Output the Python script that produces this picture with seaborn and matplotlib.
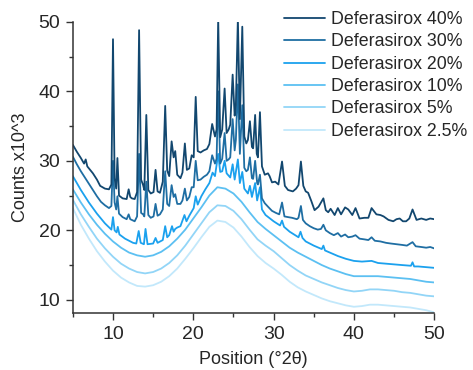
import matplotlib
matplotlib.use("Agg")
import matplotlib.pyplot as plt
import seaborn as sns
from matplotlib.ticker import MultipleLocator

# XRD patterns (counts x10^3 vs 2-theta)
pts_40 = [(5.0, 32.3), (5.5, 31.3), (6.0, 30.4), (6.4, 29.6), (6.6, 30.2), (6.8, 29.2), (7.5, 28.2), (8.0, 27.3),
          (8.4, 26.4), (9.0, 26.0), (9.5, 25.9), (9.8, 26.6), (10.0, 47.5), (10.2, 27.5), (10.4, 26.0), (10.55, 30.4),
          (10.75, 25.0), (11.2, 24.6), (11.7, 24.5), (11.95, 25.9), (12.15, 24.8), (12.35, 24.6), (12.7, 24.5),
          (13.0, 25.5), (13.25, 48.8), (13.5, 27.3), (13.75, 26.5), (13.9, 25.8), (14.15, 36.6), (14.4, 25.8),
          (14.7, 25.3), (15.05, 25.5), (15.3, 28.7), (15.55, 25.6), (15.85, 25.4), (16.2, 27.0), (16.5, 37.9),
          (16.75, 28.6), (17.0, 27.8), (17.3, 32.8), (17.55, 30.5), (17.75, 31.4), (18.0, 28.0), (18.4, 27.5),
          (18.65, 28.3), (18.95, 32.5), (19.2, 28.7), (19.5, 28.9), (19.8, 30.8), (20.05, 30.5), (20.3, 39.2),
          (20.55, 31.4), (20.9, 31.2), (21.3, 31.5), (21.7, 31.7), (22.0, 32.4), (22.35, 35.3), (22.7, 33.5),
          (22.9, 34.5), (23.1, 50.5), (23.35, 33.4), (23.6, 34.5), (23.9, 40.4), (24.15, 34.0), (24.4, 34.5),
          (24.6, 35.2), (24.9, 42.4), (25.15, 36.5), (25.3, 38.0), (25.55, 50.5), (25.8, 36.0), (26.1, 49.3),
          (26.35, 33.5), (26.6, 32.5), (26.8, 33.0), (27.05, 35.7), (27.3, 32.0), (27.45, 31.8), (27.7, 36.6),
          (27.9, 31.0), (28.05, 30.5), (28.3, 37.0), (28.55, 29.2), (28.9, 28.0), (29.3, 28.2), (29.5, 27.8),
          (29.8, 26.9), (30.2, 27.0), (30.6, 26.6), (31.05, 29.9), (31.4, 26.4), (31.8, 25.8), (32.4, 25.6),
          (32.8, 26.0), (33.1, 26.5), (33.4, 29.9), (33.7, 26.4), (34.0, 25.6), (34.3, 25.4), (34.7, 24.2),
          (35.1, 22.9), (35.6, 23.4), (36.2, 24.6), (36.5, 22.9), (36.8, 22.6), (37.1, 23.1), (37.6, 22.2),
          (38.0, 23.2), (38.4, 22.3), (38.9, 23.3), (39.3, 23.0), (39.8, 22.2), (40.2, 23.2), (40.7, 21.7),
          (41.3, 21.8), (41.8, 21.8), (42.2, 23.2), (42.8, 22.3), (43.3, 22.2), (43.7, 22.0), (44.3, 21.5),
          (44.9, 21.3), (45.3, 21.6), (45.7, 21.7), (46.1, 21.3), (46.5, 21.3), (46.9, 21.7), (47.3, 23.0),
          (47.8, 21.5), (48.4, 21.7), (49.0, 21.5), (49.5, 21.7), (50.0, 21.6)]

pts_30 = [(5.0, 30.6), (5.5, 29.5), (6.0, 28.5), (6.5, 27.6), (7.0, 26.7), (7.5, 25.8), (8.0, 24.9), (8.5, 24.1),
          (9.0, 23.6), (9.5, 23.2), (9.8, 23.5), (10.0, 30.0), (10.2, 24.0), (10.4, 23.0), (10.55, 24.9),
          (10.75, 22.4), (11.2, 21.9), (11.7, 21.6), (11.95, 22.3), (12.15, 21.6), (12.7, 21.3), (13.0, 22.0),
          (13.25, 31.0), (13.5, 22.5), (13.75, 22.3), (13.9, 22.0), (14.15, 27.0), (14.4, 22.2), (14.7, 21.8),
          (15.05, 22.0), (15.3, 23.8), (15.55, 22.1), (15.85, 22.3), (16.2, 23.0), (16.5, 28.5), (16.75, 23.8),
          (17.0, 23.5), (17.3, 26.5), (17.55, 24.8), (17.75, 25.2), (18.0, 23.8), (18.4, 23.8), (18.65, 24.3),
          (18.95, 26.0), (19.2, 24.3), (19.5, 24.8), (19.8, 26.2), (20.05, 26.2), (20.3, 30.0), (20.55, 27.2),
          (20.9, 27.3), (21.3, 27.7), (21.7, 28.0), (22.0, 28.5), (22.35, 30.8), (22.7, 29.6), (22.9, 30.3),
          (23.1, 40.0), (23.35, 29.6), (23.6, 30.3), (23.9, 34.0), (24.15, 30.0), (24.4, 30.2), (24.6, 30.5),
          (24.9, 36.0), (25.15, 31.5), (25.3, 33.0), (25.55, 41.0), (25.8, 31.0), (26.1, 38.0), (26.35, 29.0),
          (26.6, 28.5), (26.8, 28.7), (27.05, 30.5), (27.3, 27.5), (27.45, 27.4), (27.7, 30.0), (27.95, 26.8),
          (28.05, 26.6), (28.3, 28.0), (28.55, 24.6), (28.9, 23.9), (29.3, 23.4), (29.8, 22.8), (30.3, 22.5),
          (30.7, 22.3), (31.05, 24.0), (31.35, 22.0), (31.8, 21.9), (32.3, 21.8), (32.9, 21.6), (33.1, 21.8),
          (33.4, 23.5), (33.65, 21.5), (34.0, 21.0), (34.5, 20.6), (35.0, 20.3), (35.5, 20.1), (35.9, 20.2),
          (36.2, 20.8), (36.5, 20.0), (37.0, 19.6), (37.5, 19.3), (38.0, 19.6), (38.4, 19.1), (38.9, 19.4),
          (39.3, 19.0), (39.8, 19.1), (40.2, 19.3), (40.7, 18.8), (41.3, 18.7), (41.8, 18.6), (42.2, 19.0),
          (42.6, 18.5), (43.3, 18.4), (44.0, 18.2), (44.6, 18.1), (45.3, 18.0), (46.0, 17.9), (46.6, 17.8),
          (47.3, 18.3), (47.7, 17.7), (48.4, 17.6), (49.0, 17.5), (49.5, 17.6), (50.0, 17.4)]

pts_20 = [(5.0, 27.8), (6.0, 25.8), (7.0, 24.0), (8.0, 22.4), (9.0, 21.0), (9.8, 20.1), (10.0, 21.9), (10.2, 20.0),
          (10.45, 19.7), (10.6, 20.5), (10.8, 19.4), (11.5, 18.8), (12.0, 18.5), (12.5, 18.2), (12.9, 18.1),
          (13.2, 19.9), (13.45, 18.2), (13.85, 18.0), (14.05, 20.2), (14.3, 18.0), (15.0, 18.1), (15.3, 18.9),
          (15.55, 18.2), (16.2, 18.6), (16.5, 20.6), (16.75, 19.0), (17.0, 19.3), (17.35, 20.6), (17.55, 19.8),
          (17.75, 20.2), (18.0, 20.4), (18.4, 20.6), (18.9, 22.2), (19.15, 21.3), (19.5, 22.1), (20.05, 23.2),
          (20.3, 24.9), (20.55, 23.7), (21.0, 24.9), (21.5, 25.9), (22.0, 26.8), (22.4, 28.3), (22.7, 27.8),
          (23.1, 31.0), (23.35, 28.4), (23.6, 28.5), (23.9, 30.0), (24.15, 28.2), (24.6, 27.6), (24.9, 29.5),
          (25.15, 27.3), (25.55, 30.2), (25.8, 26.8), (26.1, 28.4), (26.35, 26.0), (26.8, 25.3), (27.05, 26.4),
          (27.3, 24.8), (27.7, 26.8), (27.95, 24.3), (28.3, 26.2), (28.55, 23.0), (29.0, 22.2), (30.0, 21.3),
          (30.8, 20.7), (31.05, 21.4), (31.3, 20.5), (32.0, 19.8), (33.1, 19.0), (33.35, 19.8), (33.6, 18.9),
          (34.0, 18.4), (35.0, 17.8), (36.0, 17.3), (36.2, 17.8), (36.4, 17.1), (37.0, 16.8), (38.0, 16.3),
          (39.0, 15.9), (40.0, 15.6), (41.0, 15.5), (42.2, 15.6), (43.0, 15.3), (44.0, 15.2), (45.0, 15.1),
          (46.0, 15.0), (47.1, 14.9), (47.3, 15.4), (47.5, 14.8), (48.0, 14.8), (49.0, 14.7), (50.0, 14.6)]

# the low-loading samples are just the amorphous halo
x_halo = [5, 6, 7, 8, 9, 10, 11, 12, 13, 14, 15, 16, 17, 18, 19, 20, 21, 22, 23, 24, 25, 26, 27, 28, 29,
          30, 31, 32, 33, 34, 35, 36, 37, 38, 39, 40, 41, 42, 43, 44, 45, 46, 47, 48, 49, 50]
y_10 = [25.9, 24.0, 22.3, 20.8, 19.5, 18.4, 17.5, 16.8, 16.4, 16.2, 16.4, 16.9, 17.7, 18.8, 20.1, 21.7, 23.3, 25.0,
        26.2, 26.0, 25.3, 24.1, 22.6, 21.2, 20.2, 19.3, 18.4, 17.5, 16.8, 16.2, 15.6, 15.0, 14.5, 14.1, 13.7, 13.4,
        13.4, 13.4, 13.4, 13.3, 13.2, 13.1, 13.0, 12.8, 12.6, 12.5]
y_5 = [24.4, 22.3, 20.5, 18.8, 17.4, 16.2, 15.2, 14.5, 14.0, 13.8, 14.0, 14.5, 15.3, 16.4, 17.8, 19.4, 21.0, 22.6,
       23.6, 23.5, 22.8, 21.6, 20.1, 18.7, 17.8, 17.0, 16.0, 15.0, 14.2, 13.5, 13.0, 12.5, 12.1, 11.7, 11.4, 11.2,
       11.3, 11.5, 11.5, 11.4, 11.3, 11.1, 11.0, 10.8, 10.6, 10.5]
y_2_5 = [23.2, 20.8, 18.8, 17.0, 15.5, 14.2, 13.2, 12.5, 12.0, 11.9, 12.1, 12.6, 13.4, 14.5, 15.9, 17.4, 19.0, 20.5,
         21.4, 21.2, 20.4, 19.1, 17.6, 16.3, 15.3, 14.5, 13.6, 12.6, 11.8, 11.2, 10.7, 10.2, 9.8, 9.5, 9.2, 9.0,
         9.1, 9.3, 9.3, 9.2, 9.1, 9.0, 8.9, 8.7, 8.5, 8.2]

labels = ["Deferasirox 40%", "Deferasirox 30%", "Deferasirox 20%",
          "Deferasirox 10%", "Deferasirox 5%", "Deferasirox 2.5%"]
colors = ["#12476f", "#1f6ea3", "#1ba1ee", "#5cc0f2", "#92d5f7", "#c2e8fb"]

x40, y40 = zip(*pts_40)
x30, y30 = zip(*pts_30)
x20, y20 = zip(*pts_20)
series = [(x40, y40), (x30, y30), (x20, y20), (x_halo, y_10), (x_halo, y_5), (x_halo, y_2_5)]

sns.set_style("ticks")
plt.rcParams["font.family"] = ["Liberation Sans", "DejaVu Sans"]

fig = plt.figure(figsize=(4.73, 3.70), dpi=100)
ax = fig.add_axes([0.154, 0.154, 0.764, 0.787])

# draw lowest first so the darker patterns sit on top
for (xs, ys), lab, col in reversed(list(zip(series, labels, colors))):
    sns.lineplot(x=list(xs), y=list(ys), ax=ax, color=col, label=lab,
                 estimator=None, sort=False, linewidth=1.3)

ax.set_xlim(5, 50)
ax.set_ylim(8.1, 50)
ax.xaxis.set_major_locator(MultipleLocator(10))
ax.xaxis.set_minor_locator(MultipleLocator(5))
ax.yaxis.set_major_locator(MultipleLocator(10))
ax.yaxis.set_minor_locator(MultipleLocator(5))
ax.tick_params(which="major", length=5, width=1, color="#333333", labelsize=14, direction="out", pad=4)
ax.tick_params(which="minor", length=3, width=1, color="#333333", direction="out")
for s in ["top", "right"]:
    ax.spines[s].set_visible(False)
for s in ["left", "bottom"]:
    ax.spines[s].set_color("#333333")
    ax.spines[s].set_linewidth(1.1)

ax.set_xlabel("Position (°2θ)", fontsize=13, labelpad=6)
ax.set_ylabel("Counts x10^3", fontsize=13, labelpad=7)

handles, labs = ax.get_legend_handles_labels()
order = [labs.index(l) for l in labels]
ax.legend([handles[i] for i in order], labels, loc="upper right",
          bbox_to_anchor=(0.988, 0.97), bbox_transform=fig.transFigure,
          frameon=False, fontsize=12.8, handlelength=2.3, handletextpad=0.35,
          labelspacing=0.3, borderaxespad=0, borderpad=0)

fig.savefig("out.png", dpi=100)
